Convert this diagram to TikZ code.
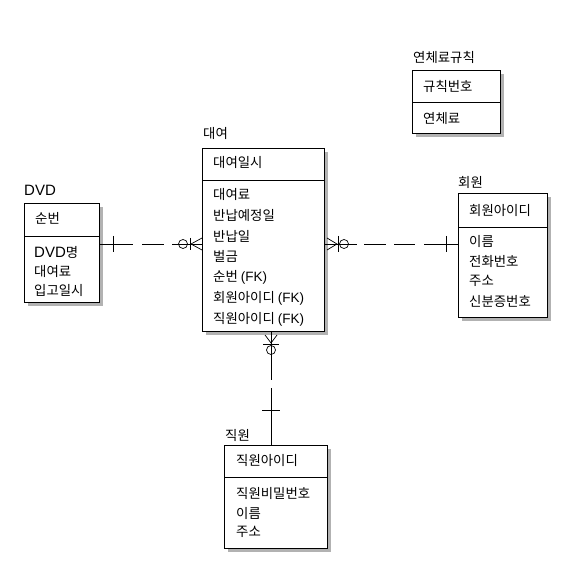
\documentclass[tikz,border=0pt]{standalone}
\usepackage{fontspec}
\setmainfont{Liberation Sans}
\newfontfamily\kr{Noto Sans CJK KR}
\usetikzlibrary{shadows}
\newcommand\latn[1]{{\normalfont\fontsize{13.5}{15}\selectfont #1}}
\begin{document}
\begin{tikzpicture}[x=1pt,y=-1pt,
  ebox/.style={draw=black, line width=0.8pt, fill=white, inner sep=0pt, outer sep=0pt, anchor=north west,
    drop shadow={shadow xshift=4pt, shadow yshift=-4pt, fill=gray!60, opacity=1}},
  txt/.style={anchor=west, inner sep=0pt, font=\kr\fontsize{13.4}{15}\selectfont},
  bigtxt/.style={anchor=west, inner sep=0pt, font=\fontsize{15}{17}\selectfont},
  divider/.style={line width=0.8pt},
  rel/.style={line width=0.7pt},
  sym/.style={line width=0.7pt}]
\useasboundingbox[fill=white] (0,0) rectangle (581,577);

% entity boxes
\node[ebox, minimum width=88pt,  minimum height=63pt]  (rule) at (412,70)  {};
\node[ebox, minimum width=122pt, minimum height=183pt] (dae)  at (202,148) {};
\node[ebox, minimum width=75pt,  minimum height=99pt]  (dvd)  at (24,203)  {};
\node[ebox, minimum width=89pt,  minimum height=124pt] (mem)  at (458,193) {};
\node[ebox, minimum width=103pt, minimum height=103pt] (emp)  at (224,445) {};

% dividers
\draw[divider] (rule.west |- 0,102) -- (rule.east |- 0,102);
\draw[divider] (dae.west |- 0,180) -- (dae.east |- 0,180);
\draw[divider] (dvd.west |- 0,236) -- (dvd.east |- 0,236);
\draw[divider] (mem.west |- 0,227) -- (mem.east |- 0,227);
\draw[divider] (emp.west |- 0,477) -- (emp.east |- 0,477);

% 연체료규칙
\node[txt] (trule) at (413,57) {연체료규칙};
\node[txt] (r1) at (423,86) {규칙번호};
\node[txt] (r2) at (423,118) {연체료};

% 대여
\node[txt] (tdae) at (203,133) {대여};
\node[txt] (d0) at (213,162) {대여일시};
\node[txt] (d1) at (213,194) {대여료};
\node[txt] (d2) at (213,215) {반납예정일};
\node[txt] (d3) at (213,236) {반납일};
\node[txt] (d4) at (213,256) {벌금};
\node[txt] (d5) at (213,277) {순번 \latn{(FK)}};
\node[txt] (d6) at (213,298) {회원아이디 \latn{(FK)}};
\node[txt] (d7) at (213,319) {직원아이디 \latn{(FK)}};

% DVD
\node[bigtxt] (tdvd) at (24,190) {DVD};
\node[txt] (v0) at (35,218) {순번};
\node[txt] (v1) at (34,252) {{\normalfont\fontsize{15}{17}\selectfont DVD}명};
\node[txt] (v2) at (34,271) {대여료};
\node[txt] (v3) at (34,290) {입고일시};

% 회원
\node[txt] (tmem) at (458,182) {회원};
\node[txt] (m0) at (469,210) {회원아이디};
\node[txt] (m1) at (469,241) {이름};
\node[txt] (m2) at (469,261) {전화번호};
\node[txt] (m3) at (469,281) {주소};
\node[txt] (m4) at (469,301) {신분증번호};

% 직원
\node[txt] (temp) at (225,435) {직원};
\node[txt] (e0) at (236,460) {직원아이디};
\node[txt] (e1) at (236,493) {직원비밀번호};
\node[txt] (e2) at (236,513) {이름};
\node[txt] (e3) at (236,532) {주소};

% connector end points
\coordinate (L1) at (dvd.east |- 0,244);
\coordinate (L2) at (dae.west |- 0,244);
\coordinate (R1) at (dae.east |- 0,244);
\coordinate (R2) at (mem.west |- 0,244);
\coordinate (B1) at (dae.south -| 271,0);
\coordinate (B2) at (emp.north -| 271,0);

% DVD -- 대여
\draw[rel, dash pattern=on 34pt off 9pt on 22pt off 8pt on 80pt off 0pt] (L1) -- (L2);
\draw[sym] ([xshift=14pt]L1) ++(0,-8) -- ++(0,16);
\draw[sym] ([xshift=-19pt]L2) circle (4.5pt);
\draw[sym] ([xshift=-12pt]L2) ++(0,-6) -- ++(0,12);
\draw[sym] ([yshift=6pt]L2) -- ([xshift=-11pt]L2) -- ([yshift=-6pt]L2);

% 대여 -- 회원
\draw[rel, dash pattern=on 33pt off 7pt on 22pt off 8pt on 21pt off 9pt on 80pt off 0pt] (R1) -- (R2);
\draw[sym] ([xshift=-12pt]R2) ++(0,-8) -- ++(0,16);
\draw[sym] ([xshift=20pt]R1) circle (4.5pt);
\draw[sym] ([xshift=14pt]R1) ++(0,-8) -- ++(0,16);
\draw[sym] ([xshift=3pt,yshift=6pt]R1) -- ([xshift=13pt]R1) -- ([xshift=3pt,yshift=-6pt]R1);

% 대여 -- 직원
\draw[rel, dash pattern=on 49pt off 8pt on 80pt off 0pt] (B1) -- (B2);
\draw[sym] ([yshift=35pt]B2) ++(-9,0) -- ++(18,0);
\draw[sym] ([yshift=-19pt]B1) circle (4.5pt);
\draw[sym] ([yshift=-13pt]B1) ++(-8,0) -- ++(16,0);
\draw[sym] ([xshift=-6pt,yshift=-4pt]B1) -- ([yshift=-12pt]B1) -- ([xshift=6pt,yshift=-4pt]B1);
\end{tikzpicture}
\end{document}
